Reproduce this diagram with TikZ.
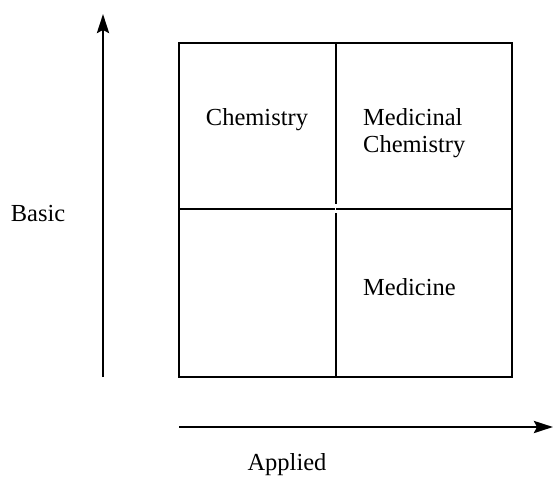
\documentclass[tikz,border=0pt]{standalone}
\usepackage{fontspec}
\setmainfont{Liberation Serif}
\usetikzlibrary{arrows.meta}
\begin{document}
\begin{tikzpicture}[x=1pt,y=-1pt,
  gridline/.style={line width=1.9pt,line cap=rect},
  axisarrow/.style={line width=2.8pt,-{Stealth[length=19pt,width=12pt,inset=3pt]}},
  lbl/.style={font=\fontsize{24.5}{26.5}\selectfont,inner sep=0pt,align=left}]
\useasboundingbox (0,0) rectangle (553,478);
% grid corners
\coordinate (tl) at (179,43);
\coordinate (tr) at (512,43);
\coordinate (bl) at (179,377);
\coordinate (br) at (512,377);
\coordinate (tm) at (336,43);
\coordinate (bm) at (336,377);
\coordinate (ml) at (179,209);
\coordinate (mr) at (512,209);
\coordinate (cu) at (336,203);
\coordinate (cd) at (336,214);
\coordinate (cl) at (334,209);
\coordinate (cr) at (337,209);
\draw[gridline] (tl) -- (tr) -- (br) -- (bl) -- cycle;
\draw[gridline] (tm) -- (cu);
\draw[gridline] (cd) -- (bm);
\draw[gridline] (ml) -- (cl);
\draw[gridline] (cr) -- (mr);
% axes
\coordinate (va) at (103,377);
\coordinate (vb) at (103,14);
\coordinate (ha) at (179,427);
\coordinate (hb) at (553,427);
\draw[axisarrow] (va) -- (vb);
\draw[axisarrow] (ha) -- (hb);
% labels
\node[lbl] (chem) at (257,120) {Chemistry};
\node[lbl,anchor=west] (medchem) at (363,133) {Medicinal\\Chemistry};
\node[lbl,anchor=west] (med) at (363,287) {Medicine};
\node[lbl] (basic) at (38,214) {Basic};
\node[lbl] (applied) at (287,465) {Applied};
\end{tikzpicture}
\end{document}
